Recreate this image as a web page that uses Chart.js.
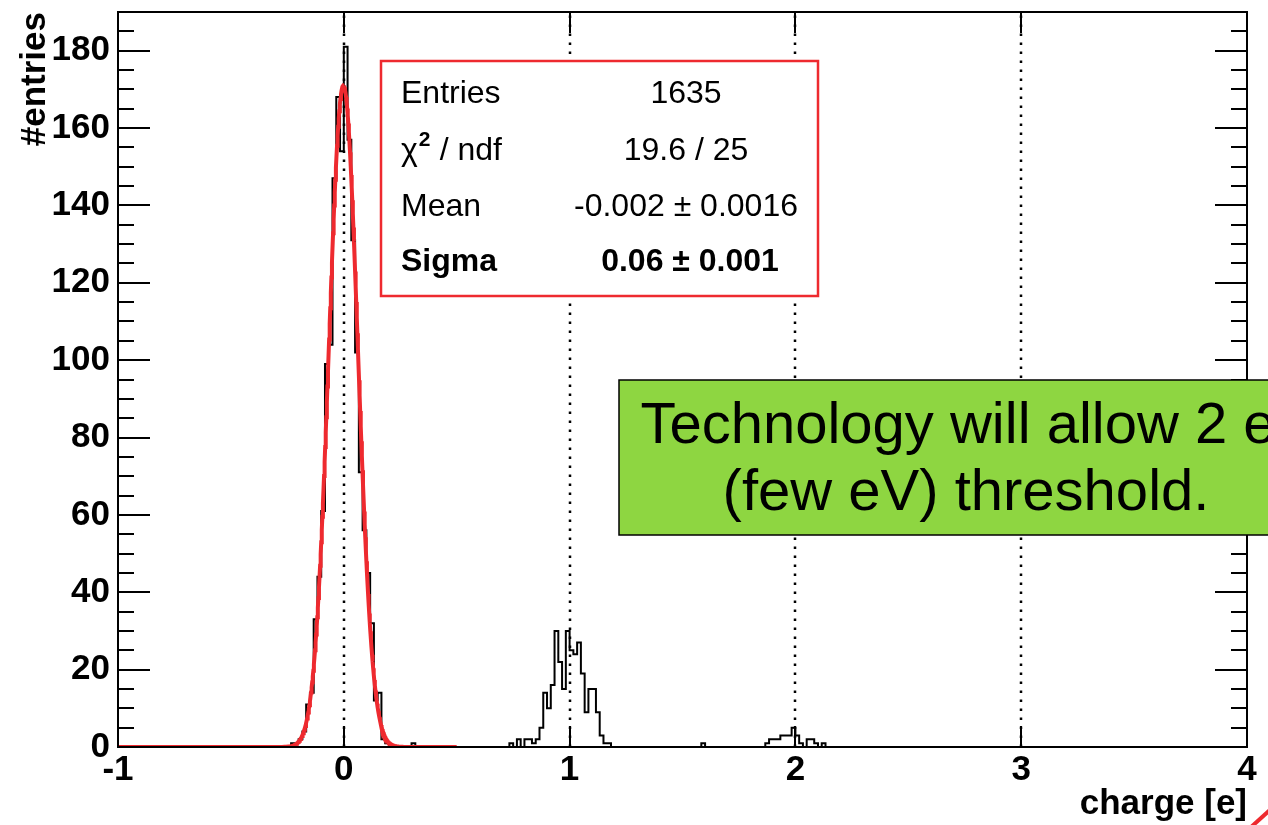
<!DOCTYPE html>
<html>
<head>
<meta charset="utf-8">
<title>charge</title>
<script src="https://cdn.jsdelivr.net/npm/chart.js@4"></script>
<style>
  html, body { margin: 0; padding: 0; background: #ffffff; }
  canvas { display: block; }
</style>
</head>
<body>
<canvas id="chart" width="1268" height="825"></canvas>
<script>
// Histogram binning: 300 bins between -1 and 4 e
const binLow = -1;
const binHigh = 4;
const binCount = 300;

// Bin contents, each run listed from its first bin index
const pedestalStart = 46;
const pedestalCounts = [1, 1, 2, 4, 11, 14, 33, 44, 61, 99, 104, 147, 168, 154, 181,
                        157, 131, 102, 71, 56, 45, 32, 12, 14, 2, 1];
const oneElectronStart = 104;
const oneElectronCounts = [1, 0, 2, 0, 2, 2, 1, 2, 5, 14, 10, 16, 30, 22, 15, 30,
                           25, 24, 27, 19, 9, 15, 15, 9, 3, 1, 1];
const twoElectronStart = 172;
const twoElectronCounts = [1, 2, 2, 2, 3, 3, 3, 5, 3, 1, 0, 2, 2, 1, 0, 1];
const strayBins = [78, 155];
const strayCounts = [1, 1];

// Gaussian fit of the pedestal peak
const fitAmplitude = 171;
const fitMean = -0.002;
const fitSigma = 0.064;
const fitFrom = -1;
const fitTo = 0.5;

// Axes
const xTickValues = [-1, 0, 1, 2, 3, 4];
const xGridValues = [0, 1, 2, 3];
const yTickValues = [0, 20, 40, 60, 80, 100, 120, 140, 160, 180];
const yMinorStep = 5;
const yMax = 190;
const xTitle = 'charge [e]';
const yTitle = '#entries';

// Statistics box
const statNames = ['Entries', 'χ', 'Mean', 'Sigma'];
const statValues = ['1635', '19.6 / 25', fitMean.toFixed(3) + ' \u00b1 0.0016', fitSigma.toFixed(2) + ' \u00b1 0.001'];

// Note
const noteLines = ['Technology will allow 2 e', '(few eV) threshold.'];

// ---- build datasets ----
const binWidth = (binHigh - binLow) / binCount;
const counts = new Array(binCount).fill(0);
[[pedestalStart, pedestalCounts], [oneElectronStart, oneElectronCounts], [twoElectronStart, twoElectronCounts]]
  .forEach(([start, arr]) => arr.forEach((c, i) => { counts[start + i] = c; }));
strayBins.forEach((b, i) => { counts[b] = strayCounts[i]; });

// one point per bin left edge, plus the closing edge; drawn with horizontal-first steps
const histPoints = counts.map((c, k) => ({ x: binLow + k * binWidth, y: c }));
histPoints.push({ x: binHigh, y: counts[binCount - 1] });

const fitPoints = [];
const fitSamples = 600;
for (let i = 0; i <= fitSamples; i++) {
  const x = fitFrom + (fitTo - fitFrom) * i / fitSamples;
  const z = (x - fitMean) / fitSigma;
  fitPoints.push({ x, y: fitAmplitude * Math.exp(-0.5 * z * z) });
}

const FONT = "'Liberation Sans', Arial, Helvetica, sans-serif";
const axisFont = { family: FONT, size: 35, weight: 'bold', lineHeight: 1.2 };

// Frame, inward ticks, dotted grid lines, stats box and note
const rootStyle = {
  id: 'rootStyle',
  beforeDatasetsDraw(chart) {
    const { ctx, chartArea: a, scales: { x } } = chart;
    ctx.save();
    ctx.strokeStyle = '#000';
    ctx.lineWidth = 2.5;
    ctx.setLineDash([2.5, 6.5]);
    xGridValues.forEach(v => {
      const px = Math.round(x.getPixelForValue(v));
      ctx.beginPath();
      ctx.moveTo(px, a.bottom);
      ctx.lineTo(px, a.top);
      ctx.stroke();
    });
    ctx.restore();
  },
  afterDatasetsDraw(chart) {
    const { ctx, chartArea: a, scales: { x, y } } = chart;
    ctx.save();
    ctx.strokeStyle = '#000';
    ctx.lineWidth = 2;
    ctx.setLineDash([]);

    // y ticks on both sides
    for (let v = 0; v <= yMax; v += yMinorStep) {
      const py = Math.round(y.getPixelForValue(v));
      const len = yTickValues.includes(v) ? 32 : 16;
      ctx.beginPath();
      ctx.moveTo(a.left, py); ctx.lineTo(a.left + len, py);
      ctx.moveTo(a.right, py); ctx.lineTo(a.right - len, py);
      ctx.stroke();
    }
    // x ticks top and bottom
    xTickValues.forEach(v => {
      const px = Math.round(x.getPixelForValue(v));
      ctx.beginPath();
      ctx.moveTo(px, a.bottom); ctx.lineTo(px, a.bottom - 21);
      ctx.moveTo(px, a.top); ctx.lineTo(px, a.top + 21);
      ctx.stroke();
    });
    // frame
    ctx.strokeRect(a.left, a.top, a.right - a.left, a.bottom - a.top);

    // statistics box
    const bx = 381, by = 61, bw = 437, bh = 235;
    ctx.fillStyle = '#ffffff';
    ctx.fillRect(bx, by, bw, bh);
    ctx.strokeStyle = '#ee2a2f';
    ctx.lineWidth = 2.5;
    ctx.strokeRect(bx, by, bw, bh);

    const rows = [103, 160, 216, 271];
    const nameX = 401, valueX = 686;
    ctx.fillStyle = '#000';
    ctx.textBaseline = 'alphabetic';
    statNames.forEach((name, i) => {
      const bold = i === 3 ? 'bold ' : '';
      ctx.font = bold + '32px ' + FONT;
      ctx.textAlign = 'left';
      if (name === 'χ') {
        ctx.fillText('χ', nameX, rows[i]);
        const w = ctx.measureText('χ').width;
        ctx.font = 'bold 21px ' + FONT;
        ctx.fillText('2', nameX + w + 1, rows[i] - 14);
        ctx.font = '32px ' + FONT;
        ctx.fillText(' / ndf', nameX + w + 13, rows[i]);
      } else {
        ctx.fillText(name, nameX, rows[i]);
      }
      ctx.font = bold + '32px ' + FONT;
      ctx.textAlign = 'center';
      ctx.fillText(statValues[i], valueX + (i === 3 ? 4 : 0), rows[i]);
    });

    // note box
    ctx.fillStyle = '#8ed641';
    ctx.fillRect(619, 380, 720, 155);
    ctx.strokeStyle = '#000';
    ctx.lineWidth = 1.5;
    ctx.strokeRect(619, 380, 720, 155);
    ctx.fillStyle = '#000';
    ctx.font = '58px ' + FONT;
    ctx.textAlign = 'center';
    ctx.fillText(noteLines[0], 958, 443);
    ctx.fillText(noteLines[1], 966, 510);

    // corner pointer
    ctx.strokeStyle = '#ee2a2f';
    ctx.lineWidth = 4;
    ctx.beginPath();
    ctx.moveTo(1250, 828);
    ctx.lineTo(1270, 810);
    ctx.stroke();
    ctx.restore();
  }
};

new Chart(document.getElementById('chart'), {
  type: 'line',
  data: {
    datasets: [
      {
        label: 'fit',
        data: fitPoints,
        borderColor: '#ee2a2f',
        borderWidth: 4,
        pointRadius: 0,
        tension: 0,
        fill: false,
        order: 0
      },
      {
        label: 'charge',
        data: histPoints,
        stepped: 'before',
        borderColor: '#000000',
        borderWidth: 2,
        pointRadius: 0,
        fill: false,
        order: 1
      }
    ]
  },
  options: {
    responsive: false,
    animation: false,
    events: [],
    layout: { padding: { top: 12, right: 21, left: 0, bottom: 0 } },
    plugins: { legend: { display: false }, tooltip: { enabled: false } },
    scales: {
      x: {
        type: 'linear',
        min: binLow,
        max: binHigh,
        afterBuildTicks(s) { s.ticks = xTickValues.map(v => ({ value: v })); },
        afterFit(s) { s.height = 78; s.paddingLeft = 0; s.paddingRight = 0; },
        ticks: { font: axisFont, color: '#000', padding: 2, maxRotation: 0, autoSkip: false },
        grid: { display: false, drawTicks: false },
        border: { display: false },
        title: { display: true, text: xTitle, align: 'end', color: '#000', font: axisFont, padding: { top: 0, bottom: 0 } }
      },
      y: {
        type: 'linear',
        min: 0,
        max: yMax,
        afterBuildTicks(s) { s.ticks = yTickValues.map(v => ({ value: v })); },
        afterFit(s) { s.width = 118; s.paddingTop = 0; s.paddingBottom = 0; },
        ticks: { font: axisFont, color: '#000', padding: 8 },
        grid: { display: false, drawTicks: false },
        border: { display: false },
        title: { display: true, text: yTitle, align: 'end', color: '#000', font: axisFont, padding: { top: 14, bottom: 0 } }
      }
    }
  },
  plugins: [rootStyle]
});
</script>
</body>
</html>
